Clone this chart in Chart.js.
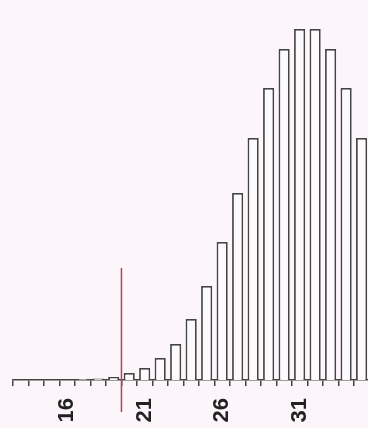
<!DOCTYPE html>
<html>
<head>
<meta charset="utf-8">
<script src="https://cdn.jsdelivr.net/npm/chart.js@4"></script>
<style>
  html, body { margin: 0; padding: 0; background: #fcf6fb; overflow: hidden; }
  #wrap { width: 368px; height: 428px; overflow: hidden; }
</style>
</head>
<body>
<div id="wrap"><canvas id="hist" width="400" height="428"></canvas></div>
<script>
/* ===== Histogram with cutoff marker ===== */
const bins = ['13','14','15','16','17','18','19','20','21','22','23','24','25','26','27','28','29','30','31','32','33','34','35'];
const counts = [0, 0, 0, 0, 1, 1.5, 3, 7, 12, 22, 36, 61, 94, 138, 187, 242, 292, 331, 351, 351, 331, 292, 242];
const shownLabels = ['16', '21', '26', '31'];
const cutoff = { after: '19', top: 112 };

const cutoffLine = {
  id: 'cutoffLine',
  afterDatasetsDraw(chart) {
    const x = chart.scales.x, y = chart.scales.y;
    const i = bins.indexOf(cutoff.after);
    const px = (x.getPixelForValue(i) + x.getPixelForValue(i + 1)) / 2;
    const ctx = chart.ctx;
    ctx.save();
    ctx.strokeStyle = '#b8404e';
    ctx.lineWidth = 1.5;
    ctx.beginPath();
    ctx.moveTo(px, y.getPixelForValue(cutoff.top));
    ctx.lineTo(px, y.getPixelForValue(0) + 32);
    ctx.stroke();
    ctx.restore();
  }
};

new Chart(document.getElementById('hist'), {
  type: 'bar',
  data: {
    labels: bins,
    datasets: [{
      data: counts,
      backgroundColor: '#fdfafd',
      borderColor: '#444',
      borderWidth: 1.8,
      barPercentage: 0.72,
      categoryPercentage: 1
    }]
  },
  options: {
    responsive: false,
    animation: false,
    layout: { padding: { left: 13, right: 0, top: 10, bottom: 0 } },
    plugins: { legend: { display: false }, tooltip: { enabled: false } },
    scales: {
      x: {
        offset: true,
        grid: { display: true, drawOnChartArea: false, drawTicks: true, tickLength: 6, color: '#444', lineWidth: 1.5, offset: true },
        border: { display: true, color: '#444', width: 1.5 },
        ticks: {
          autoSkip: false,
          maxRotation: 90,
          minRotation: 90,
          padding: 12,
          color: '#222',
          font: { family: 'Liberation Sans', size: 22, weight: 'bold' },
          callback: (v, i) => shownLabels.includes(bins[i]) ? bins[i] : ''
        },
        afterFit: (scale) => { scale.height = 48; }
      },
      y: { display: false, min: 0, max: 370 }
    }
  },
  plugins: [cutoffLine]
});
</script>
</body>
</html>
